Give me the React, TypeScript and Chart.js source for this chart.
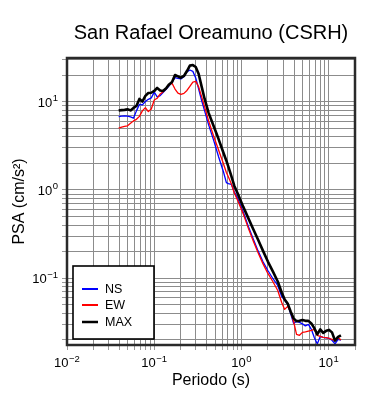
import React, { useEffect, useRef } from "react";
import { Chart, registerables } from "chart.js";

Chart.register(...registerables);

// Period (s)
const periods = [
  0.0391, 0.0423, 0.0457, 0.0494, 0.0535, 0.0578, 0.0625, 0.0676, 0.0731, 0.0791,
  0.0855, 0.0925, 0.1, 0.108, 0.117, 0.126, 0.137, 0.148, 0.16, 0.173,
  0.187, 0.202, 0.219, 0.237, 0.256, 0.277, 0.299, 0.323, 0.35, 0.378,
  0.42, 0.478, 0.545, 0.621, 0.671, 0.707, 0.764, 0.826, 0.918, 1.045,
  1.19, 1.357, 1.545, 1.76, 2.006, 2.286, 2.604, 2.89, 3.126, 3.38,
  3.656, 3.953, 4.275, 4.62, 5.0, 5.4, 5.85, 6.32, 6.83, 7.39,
  7.99, 8.64, 9.35, 10.1, 10.9, 11.8, 12.8, 13.8,
];

// PSA (cm/s^2)
const nsValues = [
  6.82, 6.89, 6.94, 6.89, 6.76, 6.54, 7.91, 9.37, 9.25, 10.1,
  10.7, 11.1, 12.9, 11.4, 11.8, 12.8, 13.9, 15.2, 16.8, 18.9,
  18.5, 18.2, 19.3, 21.9, 23.0, 22.2, 18.7, 14.0, 10.3, 7.91,
  5.49, 3.71, 2.4, 1.61, 1.21, 1.18, 1.16, 0.957, 0.777, 0.568,
  0.394, 0.281, 0.205, 0.154, 0.122, 0.099, 0.0824, 0.0619, 0.0558, 0.0502,
  0.0397, 0.0306, 0.0322, 0.0314, 0.0302, 0.0287, 0.0298, 0.0262, 0.0212, 0.0179,
  0.0218, 0.0212, 0.021, 0.0207, 0.0197, 0.0179, 0.0202, 0.0197,
];

const ewValues = [
  5.04, 5.17, 5.28, 5.35, 5.71, 6.09, 6.34, 6.85, 7.9, 8.6,
  7.77, 8.3, 10.5, 11.0, 12.3, 13.0, 14.2, 15.6, 16.3, 14.0,
  12.6, 12.2, 12.5, 13.5, 15.0, 16.8, 17.1, 14.8, 11.4, 8.78,
  6.09, 4.12, 2.86, 1.99, 1.58, 1.41, 1.18, 0.932, 0.737, 0.539,
  0.374, 0.267, 0.195, 0.146, 0.113, 0.0915, 0.0724, 0.0529, 0.0441, 0.0477,
  0.0418, 0.0322, 0.023, 0.0224, 0.0242, 0.0245, 0.025, 0.0255, 0.0262, 0.0224,
  0.0218, 0.0212, 0.0211, 0.0207, 0.0202, 0.0195, 0.021, 0.0199,
];

const maxValues = [
  7.97, 8.07, 8.12, 8.23, 8.01, 8.55, 9.01, 10.8, 10.1, 11.7,
  12.6, 12.7, 13.3, 14.4, 13.5, 13.3, 14.3, 15.8, 16.8, 20.2,
  19.5, 18.8, 19.7, 22.4, 25.8, 26.2, 24.9, 20.7, 14.8, 10.8,
  7.51, 5.35, 3.81, 2.65, 2.15, 1.84, 1.45, 1.12, 0.885, 0.647,
  0.486, 0.364, 0.274, 0.205, 0.154, 0.119, 0.0915, 0.0687, 0.0572, 0.0516,
  0.0418, 0.0349, 0.0325, 0.0327, 0.0334, 0.0327, 0.0327, 0.0306, 0.027, 0.023,
  0.0262, 0.0239, 0.0252, 0.0258, 0.0242, 0.0195, 0.0215, 0.0224,
];

const seriesLabels = ["NS", "EW", "MAX"];
const seriesColors = ["#0000ff", "#ff0000", "#000000"];

// Decade tick labels: base "10" with exponent
const xDecades = [0.01, 0.1, 1, 10];
const xDecadeExponents = ["\u22122", "\u22121", "0", "1"];
const yDecades = [0.1, 1, 10];
const yDecadeExponents = ["\u22121", "0", "1"];

const titleText = "San Rafael Oreamuno (CSRH)";
const xTitle = "Periodo (s)";
const yTitle = "PSA (cm/s\u00B2)";

const FONT = "'Liberation Sans', Arial, Helvetica, sans-serif";

function logTicks(min: number, max: number) {
  const out: { value: number }[] = [];
  const e0 = Math.floor(Math.log10(min));
  const e1 = Math.ceil(Math.log10(max));
  for (let e = e0; e <= e1; e++) {
    for (let m = 1; m <= 9; m++) {
      const v = parseFloat((m * Math.pow(10, e)).toPrecision(6));
      if (v >= min * (1 - 1e-9) && v <= max * (1 + 1e-9)) out.push({ value: v });
    }
  }
  return out;
}

function drawPow(ctx: any, x: number, baseline: number, exp: string, align: "center" | "right") {
  ctx.font = `13px ${FONT}`;
  const wb = ctx.measureText("10").width;
  ctx.font = `9.5px ${FONT}`;
  const we = ctx.measureText(exp).width;
  const total = wb + 0.5 + we;
  const x0 = align === "center" ? x - total / 2 : x - total;
  ctx.textAlign = "left";
  ctx.textBaseline = "alphabetic";
  ctx.fillStyle = "#000";
  ctx.font = `13px ${FONT}`;
  ctx.fillText("10", x0, baseline);
  ctx.font = `9.5px ${FONT}`;
  ctx.fillText(exp, x0 + wb + 0.5, baseline - 5.5);
}

const framePlugin = {
  id: "frameAndLegend",
  afterDraw(chart: any) {
    const { ctx, chartArea } = chart;
    const { left, top, right, bottom } = chartArea;
    ctx.save();

    // decade tick labels with superscript exponents
    const xs = chart.scales.x;
    xDecades.forEach((d, i) => {
      const px = xs.getPixelForValue(d);
      drawPow(ctx, px, bottom + 22, xDecadeExponents[i], "center");
    });
    const ys = chart.scales.y;
    yDecades.forEach((d, i) => {
      const py = ys.getPixelForValue(d);
      drawPow(ctx, left - 9, py + 5, yDecadeExponents[i], "right");
    });

    ctx.lineWidth = 2.5;
    ctx.strokeStyle = "#2a2a2a";
    ctx.strokeRect(left, top, right - left, bottom - top);

    // legend box
    const bx = left + 6;
    const by = bottom - 79;
    const bw = 81;
    const bh = 73;
    ctx.fillStyle = "#ffffff";
    ctx.fillRect(bx, by, bw, bh);
    ctx.lineWidth = 1.6;
    ctx.strokeStyle = "#000000";
    ctx.strokeRect(bx, by, bw, bh);
    const rowY = [23, 39, 56];
    const ds = chart.data.datasets;
    ctx.font = `12.5px ${FONT}`;
    ctx.textBaseline = "middle";
    ctx.textAlign = "left";
    ds.forEach((d: any, i: number) => {
      const y = by + rowY[i];
      ctx.beginPath();
      ctx.strokeStyle = d.borderColor;
      ctx.lineWidth = i === 2 ? 2.5 : 2;
      ctx.moveTo(bx + 9, y);
      ctx.lineTo(bx + 25, y);
      ctx.stroke();
      ctx.fillStyle = "#000";
      ctx.fillText(d.label, bx + 32, y + 0.5);
    });
    ctx.restore();
  },
};

export default function App() {
  const ref = useRef<HTMLCanvasElement | null>(null);

  useEffect(() => {
    if (!ref.current) return;
    Chart.defaults.font.family = FONT;
    Chart.defaults.color = "#000";
    const valueSets = [nsValues, ewValues, maxValues];
    const chart = new Chart(ref.current, {
      type: "line",
      data: {
        datasets: valueSets.map((vals, i) => ({
          label: seriesLabels[i],
          data: periods.map((p, j) => ({ x: p, y: vals[j] })),
          borderColor: seriesColors[i],
          backgroundColor: seriesColors[i],
          borderWidth: i === 2 ? 2.6 : 1.3,
          pointRadius: 0,
          tension: 0,
          borderJoinStyle: "round" as const,
          order: 2 - i,
        })),
      },
      options: {
        animation: false,
        responsive: false,
        devicePixelRatio: 1,
        layout: { padding: { left: 0, right: 35, top: 0, bottom: 0 } },
        plugins: {
          legend: { display: false },
          tooltip: { enabled: false },
          title: {
            display: true,
            text: titleText,
            fullSize: false,
            font: { size: 20, weight: "normal" as const, family: FONT },
            color: "#000",
            padding: { top: 21, bottom: 13 },
          },
        },
        scales: {
          x: {
            type: "logarithmic",
            min: 0.01,
            max: 20,
            afterBuildTicks: (scale: any) => {
              scale.ticks = logTicks(scale.min, scale.max);
            },
            afterFit: (scale: any) => {
              scale.height = 55;
            },
            ticks: {
              autoSkip: false,
              maxRotation: 0,
              padding: 4,
              font: { size: 13, family: FONT },
              color: "#000",
              callback: () => "",
            },
            grid: {
              color: "#8c8c8c",
              lineWidth: 1,
              tickLength: 5,
              tickColor: "#9a9a9a",
            },
            border: { display: false },
            title: {
              display: true,
              text: xTitle,
              font: { size: 16, family: FONT },
              color: "#000",
              padding: { top: 0, bottom: 9.4 },
            },
          },
          y: {
            type: "logarithmic",
            min: 0.0174,
            max: 31.5,
            afterBuildTicks: (scale: any) => {
              scale.ticks = logTicks(scale.min, scale.max);
            },
            afterFit: (scale: any) => {
              scale.width = 67;
            },
            ticks: {
              autoSkip: false,
              padding: 4,
              font: { size: 13, family: FONT },
              color: "#000",
              callback: () => "",
            },
            grid: {
              color: "#8c8c8c",
              lineWidth: 1,
              tickLength: 5,
              tickColor: "#9a9a9a",
            },
            border: { display: false },
            title: {
              display: true,
              text: yTitle,
              font: { size: 16, family: FONT },
              color: "#000",
              padding: { top: 9.5, bottom: 0 },
            },
          },
        },
      },
      plugins: [framePlugin],
    });
    return () => chart.destroy();
  }, []);

  return (
    <div style={{ position: "absolute", left: 0, top: 0, width: 390, height: 400, background: "#fff" }}>
      <canvas ref={ref} width={390} height={400} style={{ width: 390, height: 400, display: "block" }} />
    </div>
  );
}
